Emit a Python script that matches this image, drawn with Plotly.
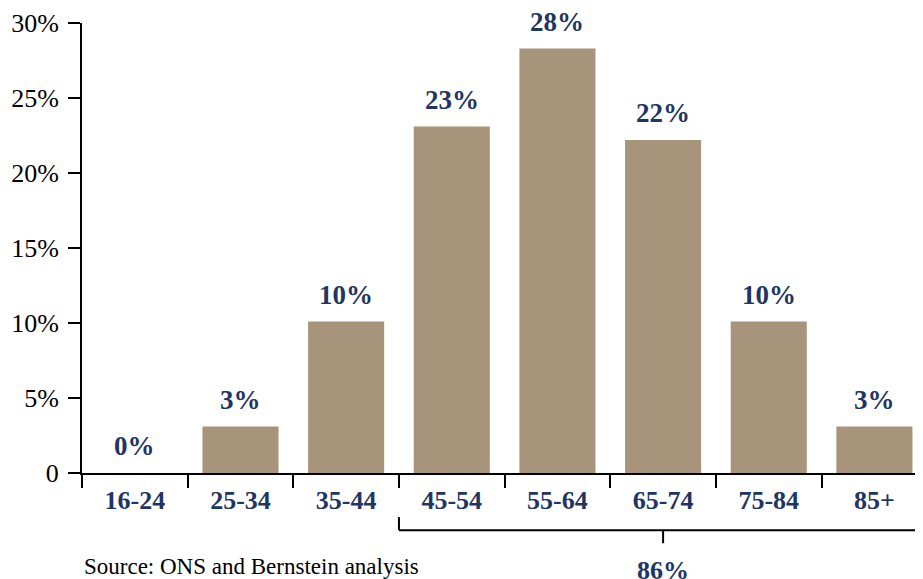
import plotly.graph_objects as go

# age bands and share of total (%)
age_bands = ['16-24', '25-34', '35-44', '45-54', '55-64', '65-74', '75-84', '85+']
share_pct = [0.0, 3.1, 10.1, 23.1, 28.3, 22.2, 10.1, 3.1]

y_tickvals = [0, 5, 10, 15, 20, 25, 30]
y_ticktext = ['0', '5%', '10%', '15%', '20%', '25%', '30%']

# bracket under the older age bands
bracket_from = '45-54'
bracket_to = '85+'
bracket_total = 86

source_note = 'Source: ONS and Bernstein analysis'

SERIF = 'Liberation Serif'
NAVY = '#1f3564'
TAN = '#a8947a'


def main():
    fig = go.Figure()
    fig.add_trace(go.Bar(
        x=age_bands, y=share_pct,
        marker={'color': TAN, 'line': {'width': 0}},
        hoverinfo='skip',
    ))

    # value labels above the bars
    for cat, v in zip(age_bands, share_pct):
        fig.add_annotation(
            x=cat, y=v, xref='x', yref='y',
            text='<b>%d%%</b>' % round(v),
            showarrow=False, yanchor='bottom', yshift=10,
            font={'family': SERIF, 'size': 27, 'color': NAVY},
        )

    # bracket: from left boundary of first band to right boundary of last band
    i0 = age_bands.index(bracket_from) - 0.5
    i1 = age_bands.index(bracket_to) + 0.5
    mid = (i0 + i1) / 2
    line = {'color': 'black', 'width': 2}
    fig.add_shape(type='line', xref='x', yref='paper', x0=i0, x1=i0, y0=-0.098, y1=-0.127, line=line)
    fig.add_shape(type='line', xref='x', yref='paper', x0=i0, x1=i1, y0=-0.127, y1=-0.127, line=line)
    fig.add_shape(type='line', xref='x', yref='paper', x0=mid, x1=mid, y0=-0.127, y1=-0.156, line=line)
    fig.add_annotation(
        x=mid, y=-0.181, xref='x', yref='paper',
        text='<b>%d%%</b>' % bracket_total, showarrow=False, yanchor='top',
        font={'family': SERIF, 'size': 26, 'color': NAVY},
    )

    fig.add_annotation(
        x=0, y=-0.207, xref='paper', yref='paper',
        text=source_note, showarrow=False, xanchor='left', yanchor='middle',
        font={'family': SERIF, 'size': 23, 'color': 'black'},
    )

    # the page body adds an 8px offset, so the figure is sized to fit the window
    fig.update_layout(
        width=915, height=571,
        margin={'l': 74, 'r': 0, 't': 15, 'b': 106},
        plot_bgcolor='white', paper_bgcolor='white',
        showlegend=False, bargap=0.28,
        font={'family': SERIF, 'color': 'black'},
        xaxis={
            'type': 'category', 'range': [-0.5, 7.46],
            'showline': True, 'linecolor': 'black', 'linewidth': 2,
            'ticks': 'outside', 'tickson': 'boundaries', 'ticklen': 13,
            'tickwidth': 2, 'tickcolor': 'black', 'ticklabelstandoff': 3,
            'showgrid': False, 'zeroline': False,
            'tickfont': {'family': SERIF, 'size': 26, 'color': NAVY, 'weight': 'bold'},
        },
        yaxis={
            'range': [0, 30], 'tickvals': y_tickvals, 'ticktext': y_ticktext,
            'showline': True, 'linecolor': 'black', 'linewidth': 2,
            'ticks': 'outside', 'ticklen': 12, 'tickwidth': 2, 'tickcolor': 'black',
            'ticklabelstandoff': 4,
            'showgrid': False, 'zeroline': False,
            'tickfont': {'family': SERIF, 'size': 26, 'color': 'black'},
        },
    )

    fig.write_html('out.html')


main()
